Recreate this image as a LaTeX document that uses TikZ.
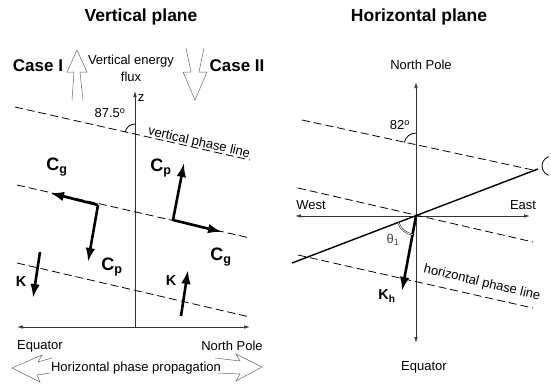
\documentclass[tikz,border=0pt]{standalone}
\usepackage{fontspec}
\setmainfont{Liberation Sans}
\usetikzlibrary{arrows.meta}

\begin{document}
\begin{tikzpicture}[x=1pt, y=-1pt,
    every node/.style={inner sep=0pt},
    title/.style={font=\fontsize{17.5}{19}\selectfont\bfseries},
    case/.style={font=\fontsize{17}{19}\selectfont\bfseries},
    lbl/.style={font=\fontsize{13}{15}\selectfont},
    vlbl/.style={font=\fontsize{18}{20}\selectfont\bfseries},
    klbl/.style={font=\fontsize{14.5}{16}\selectfont\bfseries},
    phase/.style={line width=0.8pt, dash pattern=on 8pt off 4pt},
    axis/.style={line width=0.7pt, black!80},
    tip/.style={-{Latex[length=6pt,width=3.5pt]}},
    tips/.style={{Latex[length=6pt,width=3.5pt]}-{Latex[length=6pt,width=3.5pt]}},
    vec/.style={line width=2.6pt, -{Latex[length=14pt,width=9.5pt]}},
    hollow/.style={line width=0.5pt, black!60, line join=miter},
    anglearc/.style={line width=0.8pt}
  ]
  \useasboundingbox (0,0) rectangle (551,383);

  % vertical plane
  \node (vtitle) [title] at (141,17) {Vertical plane};
  \node (case1) [case] at (38,66) {Case I};
  \node (case2) [case] at (237,66) {Case II};
  \node (flux1) [lbl] at (131,61) {Vertical energy};
  \node (flux2) [lbl] at (131,77) {flux};
  \draw [hollow] (72,100) -- (74,72) -- (67,72) -- (77,50) -- (87,72) -- (80,72) -- (83,100);
  \draw [hollow] (186,48) -- (191,72) -- (183,72) -- (195,100) -- (207,72) -- (199,72) -- (204,48);

  \coordinate (o) at (135,327);
  \coordinate (ztop) at (135,91);
  \coordinate (eq) at (17,327);
  \coordinate (np) at (250,327);
  \draw [axis, tip] (o) -- (ztop);
  \draw [axis, tips] (eq) -- (np);
  \node (zlbl) [lbl] at (141,98) {z};

  \coordinate (a1) at (15,107);
  \coordinate (b1) at (250,160);
  \coordinate (a2) at (17,185);
  \coordinate (b2) at (250,238);
  \coordinate (a3) at (17,263);
  \coordinate (b3) at (250,317);
  \draw [phase] (a1) -- (b1);
  \draw [phase] (a2) -- (b2);
  \draw [phase] (a3) -- (b3);
  \node (vpl) [lbl, rotate=-12.7] at (199,143) {vertical phase line};

  \coordinate (zc) at (135,134);
  \draw [anglearc] ([shift={(270:10)}]zc) arc (270:192.7:10);
  \node (ang1) [lbl] at (110,113) {87.5\textsuperscript{o}};

  \coordinate (jl) at (98,205);
  \coordinate (cgl) at (50,193);
  \coordinate (cpl) at (88,262);
  \draw [vec] (jl) -- (cgl);
  \draw [vec] (jl) -- (cpl);
  \node (cgllbl) [vlbl] at (57,167) {C\textsubscript{g}};
  \node (cpllbl) [vlbl] at (112,267) {C\textsubscript{p}};

  \coordinate (jr) at (173,220);
  \coordinate (cgr) at (222,232);
  \coordinate (cpr) at (184,163);
  \draw [vec] (jr) -- (cgr);
  \draw [vec] (jr) -- (cpr);
  \node (cprlbl) [vlbl] at (161,168) {C\textsubscript{p}};
  \node (cgrlbl) [vlbl] at (221,257) {C\textsubscript{g}};

  \coordinate (kl0) at (40,252);
  \coordinate (kl1) at (33,298);
  \coordinate (kr0) at (181,316);
  \coordinate (kr1) at (188,270);
  \draw [vec] (kl0) -- (kl1);
  \draw [vec] (kr0) -- (kr1);
  \node (kllbl) [klbl] at (21,282) {K};
  \node (krlbl) [klbl] at (171,281) {K};

  \node (eqlbl) [lbl] at (40,346) {Equator};
  \node (nplbl) [lbl] at (232,346) {North Pole};
  \node (hpp) [lbl] at (136,368) {Horizontal phase propagation};
  \draw [hollow] (52,358) -- (38,362) -- (42,355) -- (12,368) -- (40,382) -- (37,375) -- (50,373);
  \draw [hollow] (215,358) -- (240,361) -- (236,354) -- (262,367) -- (236,381) -- (240,374) -- (218,373);

  % horizontal plane
  \node (htitle) [title] at (419,17) {Horizontal plane};
  \coordinate (c) at (416,216);
  \coordinate (north) at (416,82);
  \coordinate (south) at (416,343);
  \coordinate (west) at (295,216);
  \coordinate (east) at (530,216);
  \draw [axis, tips] (south) -- (north);
  \draw [axis, tips] (west) -- (east);
  \node (nplbl2) [lbl] at (421,65) {North Pole};
  \node (eqlbl2) [lbl] at (424,367) {Equator};
  \node (wlbl) [lbl] at (311,205) {West};
  \node (elbl) [lbl] at (523,205) {East};

  \coordinate (ra1) at (302,120);
  \coordinate (rb1) at (533,170);
  \coordinate (ra2) at (298,188);
  \coordinate (rb2) at (533,242);
  \coordinate (ra3) at (298,255);
  \coordinate (rb3) at (533,308);
  \draw [phase] (ra1) -- (rb1);
  \draw [phase] (ra2) -- (rb2);
  \draw [phase] (ra3) -- (rb3);
  \node (hpl) [lbl, rotate=-13.5] at (482,283) {horizontal phase line};

  \coordinate (sa) at (292,263);
  \coordinate (sb) at (538,169);
  \draw [line width=1.4pt] (sa) -- (sb);
  \coordinate (edge) at (552,166);
  \draw [anglearc] ([shift={(250:10)}]edge) arc (250:110:10);

  \coordinate (nc) at (416,145);
  \draw [anglearc] ([shift={(270:12)}]nc) arc (270:192.2:12);
  \node (ang2) [lbl] at (400,125) {82\textsuperscript{o}};

  \coordinate (kh) at (402,291);
  \draw [vec] (c) -- (kh);
  \node (khlbl) [klbl] at (387,296) {K\textsubscript{h}};
  \draw [double, line width=0.5pt, double distance=0.8pt] ([shift={(159.2:19)}]c) arc (159.2:100.7:19);
  \node (th) [lbl, black!70] at (393,240) {θ\textsubscript{1}};
\end{tikzpicture}
\end{document}
